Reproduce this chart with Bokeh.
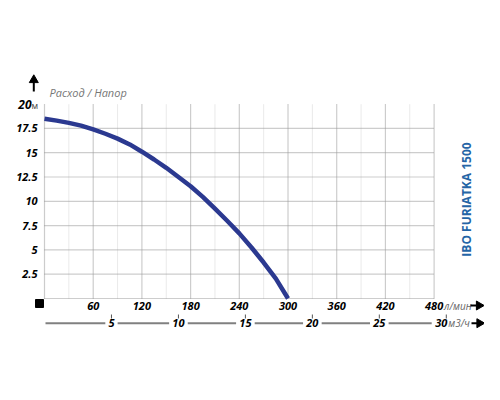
import math
from bokeh.plotting import figure
from bokeh.models import Range1d
from bokeh.core.properties import value
from bokeh.embed import file_html
from bokeh.resources import INLINE

# ---------------- data ----------------
FLOW_LPM = [0, 15, 30, 45, 60, 75, 90, 105, 120, 135, 150,
            165, 180, 195, 210, 225, 240, 255, 270, 285, 300]
HEAD_M = [18.5, 18.3, 18.07, 17.78, 17.4, 16.95, 16.45, 15.85, 15.1, 14.3, 13.45,
          12.5, 11.55, 10.45, 9.25, 8.0, 6.7, 5.25, 3.7, 2.05, 0.0]

X_MAJOR = [0, 60, 120, 180, 240, 300, 360, 420, 480]
X_LABELS = ["60", "120", "180", "240", "300", "360", "420", "480"]
X_MINOR = [30, 90, 150, 210, 270, 330, 390, 450]

Y_GRID = [0, 2.5, 5, 7.5, 10, 12.5, 15, 17.5]
Y_TICKS = [2.5, 5, 7.5, 10, 12.5, 15, 17.5]
Y_LABELS = ["2.5", "5", "7.5", "10", "12.5", "15", "17.5"]
Y_TOP = 20
Y_TOP_LABEL = "20"

M3H_TICKS = [5, 10, 15, 20, 25, 30]
M3H_LABELS = ["5", "10", "15", "20", "25", "30"]

TITLE = "Расход / Напор"
MODEL = "IBO FURIATKA 1500"
UNIT_Y = "м"
UNIT_X = "л/мин"
UNIT_X2 = "м3/ч"

# ---------------- layout ----------------
W, H = 484, 384
XS = 0.8117      # px per l/min
YS = 9.72        # px per m
X_ORG, Y_ORG = 44, 298   # px of origin in the picture
M3H = 16.5       # l/min per m3/h as drawn on the chart
OFF = 0          # canvas offset in the picture


def px(page_x):
    return (page_x - X_ORG) / XS


def py(page_y):
    return (Y_ORG - page_y) / YS


x_range = Range1d(px(OFF), px(OFF + W))
y_range = Range1d(py(OFF + H), py(OFF))

p = figure(width=W, height=H, output_backend="svg", toolbar_location=None,
           x_range=x_range, y_range=y_range, min_border=0,
           x_axis_location=None, y_axis_location=None,
           outline_line_color=None, background_fill_color="white",
           border_fill_color="white")
p.grid.grid_line_color = None
p.extra_x_ranges = {"m3h": Range1d(px(OFF) / M3H, px(OFF + W) / M3H)}

FONT = value("Open Sans")
NUM = dict(text_font=FONT, text_font_style="bold italic", text_font_size="11px",
           text_color="black")

# grid
p.segment(x0=X_MINOR, y0=[0] * len(X_MINOR), x1=X_MINOR, y1=[Y_TOP] * len(X_MINOR),
          line_color="#d4d4d4", line_width=1, line_dash="1 1")
p.segment(x0=X_MAJOR, y0=[0] * len(X_MAJOR), x1=X_MAJOR, y1=[Y_TOP] * len(X_MAJOR),
          line_color="#9a9a9a", line_width=1.2, line_dash="1 1")
p.segment(x0=[0] * len(Y_GRID), y0=Y_GRID, x1=[X_MAJOR[-1]] * len(Y_GRID), y1=Y_GRID,
          line_color="#9a9a9a", line_width=1.2, line_dash="1 1")

# curve
p.line(FLOW_LPM, HEAD_M, line_color="#2b3990", line_width=4.5, line_join="round")

# y labels
p.text(x=[px(37)] * len(Y_TICKS), y=Y_TICKS, text=Y_LABELS,
       text_align="right", text_baseline="middle", **NUM)
p.text(x=[px(31)], y=[Y_TOP], text=[Y_TOP_LABEL], text_align="right",
       text_baseline="middle", text_font=FONT, text_font_style="bold italic",
       text_font_size="12px", text_color="black")
p.text(x=[px(31)], y=[Y_TOP], text=[UNIT_Y], text_align="left",
       text_baseline="middle", text_font=FONT, text_font_size="9px",
       text_color="#444444", y_offset=1)

# title + up arrow
p.text(x=[px(49)], y=[py(92)], text=[TITLE], text_align="left", text_baseline="middle",
       text_font=FONT, text_font_style="italic", text_font_size="11px", text_color="#777777")
p.segment(x0=[px(33.3)], y0=[py(80)], x1=[px(33.3)], y1=[py(91)], line_color="black", line_width=2)
p.scatter(x=[px(33.3)], y=[py(79.5)], marker="triangle", size=9, color="black")

# origin square
p.scatter(x=[px(39)], y=[py(303)], marker="square", size=8, color="black")

# x labels (l/min)
p.text(x=X_MAJOR[1:], y=[py(305)] * len(X_LABELS), text=X_LABELS,
       text_align="center", text_baseline="middle", **NUM)
p.text(x=[X_MAJOR[-1]], y=[py(305)], text=[UNIT_X], x_offset=10, text_align="left",
       text_baseline="middle", text_font=FONT, text_font_style="italic",
       text_font_size="10px", text_color="#666666")
p.segment(x0=[px(470)], y0=[py(305)], x1=[px(476)], y1=[py(305)], line_color="black", line_width=2)
p.scatter(x=[px(478.5)], y=[py(305)], marker="triangle", size=9, color="black", angle=-math.pi / 2)

# secondary axis (m3/h)
y2 = py(322.7)
gap = [(len(s) * 6.3 / 2 + 3) / (XS * M3H) for s in M3H_LABELS]
last_gap = (len(M3H_LABELS[-1]) * 6.3 + 2) / (XS * M3H)
starts = [px(45) / M3H] + [t + g for t, g in zip(M3H_TICKS[:-2], gap[:-2])]
starts.append(M3H_TICKS[-2] + gap[-2])
ends = [t - g for t, g in zip(M3H_TICKS[:-1], gap[:-1])] + [M3H_TICKS[-1] - last_gap]
p.segment(x0=starts, y0=[y2] * len(starts), x1=ends, y1=[y2] * len(ends),
          line_color="#808080", line_width=2, x_range_name="m3h")
p.segment(x0=M3H_TICKS, y0=[py(314)] * len(M3H_TICKS), x1=M3H_TICKS, y1=[py(318)] * len(M3H_TICKS),
          line_color="#555555", line_width=1, x_range_name="m3h")
p.text(x=M3H_TICKS[:-1], y=[y2] * (len(M3H_TICKS) - 1), text=M3H_LABELS[:-1], text_align="center",
       text_baseline="middle", x_range_name="m3h", **NUM)
p.text(x=[M3H_TICKS[-1]], y=[y2], text=[M3H_LABELS[-1]], text_align="right", x_offset=1,
       text_baseline="middle", x_range_name="m3h", **NUM)
p.text(x=[M3H_TICKS[-1]], y=[y2], text=[UNIT_X2], x_offset=2, text_align="left",
       text_baseline="middle", text_font=FONT, text_font_style="italic",
       text_font_size="10px", text_color="#666666", x_range_name="m3h")
p.segment(x0=[px(471)], y0=[y2], x1=[px(477)], y1=[y2], line_color="black", line_width=2)
p.scatter(x=[px(479)], y=[y2], marker="triangle", size=9, color="black", angle=-math.pi / 2)

# model name
p.text(x=[px(466)], y=[py(199)], text=[MODEL], angle=math.pi / 2, text_align="center",
       text_baseline="middle", text_font=FONT, text_font_style="bold",
       text_font_size="12px", text_color="#2565a6")

open("out.html", "w").write(file_html(p, INLINE))
